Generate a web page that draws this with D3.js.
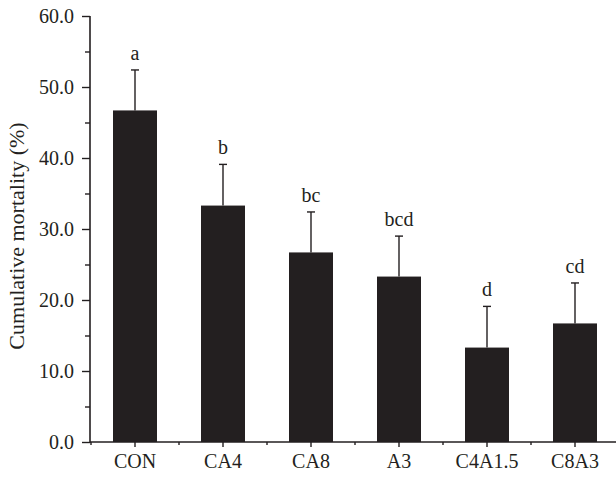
<!DOCTYPE html>
<html>
<head>
<meta charset="utf-8">
<script src="https://cdn.jsdelivr.net/npm/d3@7"></script>
<style>
  body { margin: 0; background: #fff; }
  svg text { font-family: "Liberation Serif", "DejaVu Serif", serif; fill: #231f20; }
</style>
</head>
<body>
<script>
var groups = ['CON', 'CA4', 'CA8', 'A3', 'C4A1.5', 'C8A3'],
    mortality = [46.7, 33.3, 26.7, 23.3, 13.3, 16.7],
    errors = [5.7, 5.8, 5.7, 5.7, 5.8, 5.7],
    letters = ['a', 'b', 'bc', 'bcd', 'd', 'cd'],
    yMajor = [0, 10, 20, 30, 40, 50, 60],
    yMinor = [5, 15, 25, 35, 45, 55],
    width, height, margin, x, y, svg, chart, ink;

width = 616;
height = 477;
margin = {left: 90, right: 0, top: 16, bottom: 35};
ink = '#231f20';

var plotH = height - margin.top - margin.bottom;

y = d3.scaleLinear()
      .domain([0, 60])
      .range([plotH, 0]);

x = d3.scaleBand()
      .domain(groups)
      .range([1, 529])
      .paddingInner(0.5)
      .paddingOuter(0.25);

svg = d3.select('body').append('svg').attr('width', width).attr('height', height);
chart = svg.append('g').attr('transform', 'translate(' + margin.left + ',' + margin.top + ')');

// bars
chart.selectAll('rect.bar')
  .data(mortality)
  .enter().append('rect')
  .attr('class', 'bar')
  .attr('x', function (d, i) { return x(groups[i]); })
  .attr('width', x.bandwidth())
  .attr('y', function (d) { return y(d); })
  .attr('height', function (d) { return y(0) - y(d); })
  .attr('fill', ink);

// error bars (upper only)
var eb = chart.selectAll('g.err')
  .data(mortality)
  .enter().append('g')
  .attr('class', 'err')
  .attr('transform', function (d, i) { return 'translate(' + (x(groups[i]) + x.bandwidth() / 2) + ',0)'; });

eb.append('line')
  .attr('x1', 0).attr('x2', 0)
  .attr('y1', function (d) { return y(d); })
  .attr('y2', function (d, i) { return y(d + errors[i]); })
  .attr('stroke', ink).attr('stroke-width', 1.4);

eb.append('line')
  .attr('x1', -4).attr('x2', 4)
  .attr('y1', function (d, i) { return y(d + errors[i]); })
  .attr('y2', function (d, i) { return y(d + errors[i]); })
  .attr('stroke', ink).attr('stroke-width', 1.4);

eb.append('text')
  .attr('text-anchor', 'middle')
  .attr('y', function (d, i) { return y(d + errors[i]) - 10; })
  .style('font-size', '20px')
  .text(function (d, i) { return letters[i]; });

// y axis
var yAxis = d3.axisLeft(y).tickValues(yMajor).tickFormat(d3.format('.1f')).tickSize(8).tickPadding(8);
var yG = chart.append('g').attr('class', 'axis y').call(yAxis);
yG.select('.domain').remove();
yG.selectAll('line').attr('stroke', ink).attr('stroke-width', 1.4);
yG.selectAll('text').style('font-size', '20px').attr('fill', ink);

var yMinorG = chart.append('g').call(d3.axisLeft(y).tickValues(yMinor).tickFormat('').tickSize(5));
yMinorG.select('.domain').remove();
yMinorG.selectAll('line').attr('stroke', ink).attr('stroke-width', 1.4);

chart.append('line')
  .attr('x1', 0).attr('x2', 0)
  .attr('y1', y(60)).attr('y2', y(0) + 0.7)
  .attr('stroke', ink).attr('stroke-width', 1.6);

// x axis
var xAxis = d3.axisBottom(x).tickSize(5).tickSizeOuter(0).tickPadding(7);
var xG = chart.append('g').attr('class', 'axis x').attr('transform', 'translate(0,' + plotH + ')').call(xAxis);
xG.select('.domain').remove();
xG.selectAll('line').attr('stroke', ink).attr('stroke-width', 1.4);
xG.selectAll('text').style('font-size', '20px').attr('fill', ink);

var bounds = d3.range(groups.length + 1).map(function (i) { return 1 + i * x.step(); });
xG.selectAll('line.minor')
  .data(bounds)
  .enter().append('line')
  .attr('class', 'minor')
  .attr('x1', function (d) { return d; }).attr('x2', function (d) { return d; })
  .attr('y1', 0).attr('y2', 3)
  .attr('stroke', ink).attr('stroke-width', 1.4);

xG.append('line')
  .attr('x1', 0).attr('x2', width - margin.left)
  .attr('y1', 0).attr('y2', 0)
  .attr('stroke', ink).attr('stroke-width', 1.6);

// y label
svg.append('text')
  .attr('transform', 'translate(24,236) rotate(-90)')
  .attr('text-anchor', 'middle')
  .style('font-size', '22px')
  .text('Cumulative mortality (%)');
</script>
</body>
</html>
